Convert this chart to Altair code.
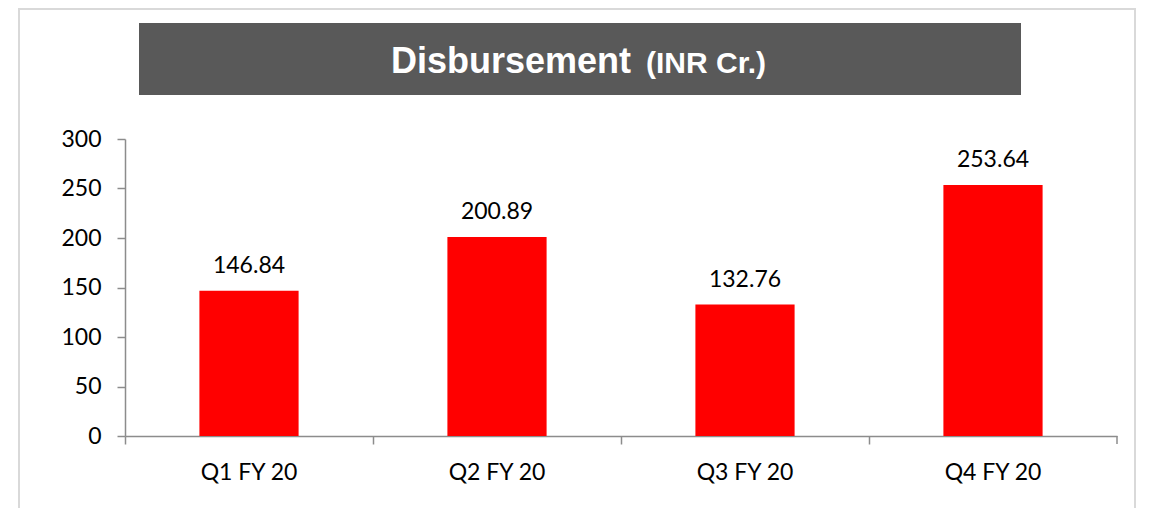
import altair as alt
import pandas as pd

quarters = ["Q1 FY 20", "Q2 FY 20", "Q3 FY 20", "Q4 FY 20"]
values = [146.84, 200.89, 132.76, 253.64]
y_ticks = [0, 50, 100, 150, 200, 250, 300]
title_main = "Disbursement"
title_unit = "(INR Cr.)"

df = pd.DataFrame({"quarter": quarters, "value": values})
one = pd.DataFrame({"k": [0]})

W, H = 992, 297
FONT = "Lato"
AXIS_GRAY = "#8c8c8c"

x = alt.X("quarter:N", sort=quarters, title=None,
          scale=alt.Scale(paddingInner=0, paddingOuter=0),
          axis=alt.Axis(bandPosition=0, labelAngle=0, labelFont=FONT, labelFontSize=23,
                        labelColor="#000000", labelBaseline="alphabetic", labelPadding=35,
                        tickSize=8, tickColor=AXIS_GRAY, tickWidth=1.5,
                        domainColor=AXIS_GRAY, domainWidth=1.5, grid=False))
y = alt.Y("value:Q", title=None,
          scale=alt.Scale(domain=[0, 300], nice=False, zero=True),
          axis=alt.Axis(values=y_ticks, labelFont=FONT, labelFontSize=23, labelColor="#000000",
                        labelPadding=16, tickSize=8, tickColor=AXIS_GRAY, tickWidth=1.5,
                        domainColor=AXIS_GRAY, domainWidth=1.5, grid=False))

bars = alt.Chart(df).mark_bar(color="#ff0000", width=alt.RelativeBandSize(0.4)).encode(x=x, y=y)
labels = alt.Chart(df).mark_text(font=FONT, fontSize=23, color="#000000",
                                 baseline="alphabetic", dy=-18).encode(
    x=alt.X("quarter:N", sort=quarters),
    y=alt.Y("value:Q"),
    text=alt.Text("value:Q", format=".2f"))

frame = alt.Chart(one).mark_rect(fill="white", fillOpacity=0, stroke="#d9d9d9", strokeWidth=2).encode(
    x=alt.value(-106), x2=alt.value(1010), y=alt.value(-130), y2=alt.value(420))
end_tick = alt.Chart(one).mark_rule(color=AXIS_GRAY, strokeWidth=1.5).encode(
    x=alt.value(W), y=alt.value(H), y2=alt.value(H + 8))
title_box = alt.Chart(one).mark_rect(fill="#595959").encode(
    x=alt.value(14), x2=alt.value(896), y=alt.value(-116), y2=alt.value(-44))
t1 = alt.Chart(one).mark_text(text=title_main, font="Liberation Sans", fontWeight="bold",
                              fontSize=36, color="white", align="left", baseline="alphabetic").encode(
    x=alt.value(266), y=alt.value(-66))
t2 = alt.Chart(one).mark_text(text=title_unit, font="Liberation Sans", fontWeight="bold",
                              fontSize=30, color="white", align="left", baseline="alphabetic").encode(
    x=alt.value(521), y=alt.value(-66))

chart = alt.layer(frame, title_box, t1, t2, bars, labels, end_tick).properties(
    width=W, height=H,
    autosize=alt.AutoSizeParams(type="none"),
    padding={"left": 117, "top": 131, "right": 28, "bottom": 72},
    background="white",
).configure_view(stroke=None)

chart.save("out.html", embed_options={"renderer": "svg", "actions": False})
